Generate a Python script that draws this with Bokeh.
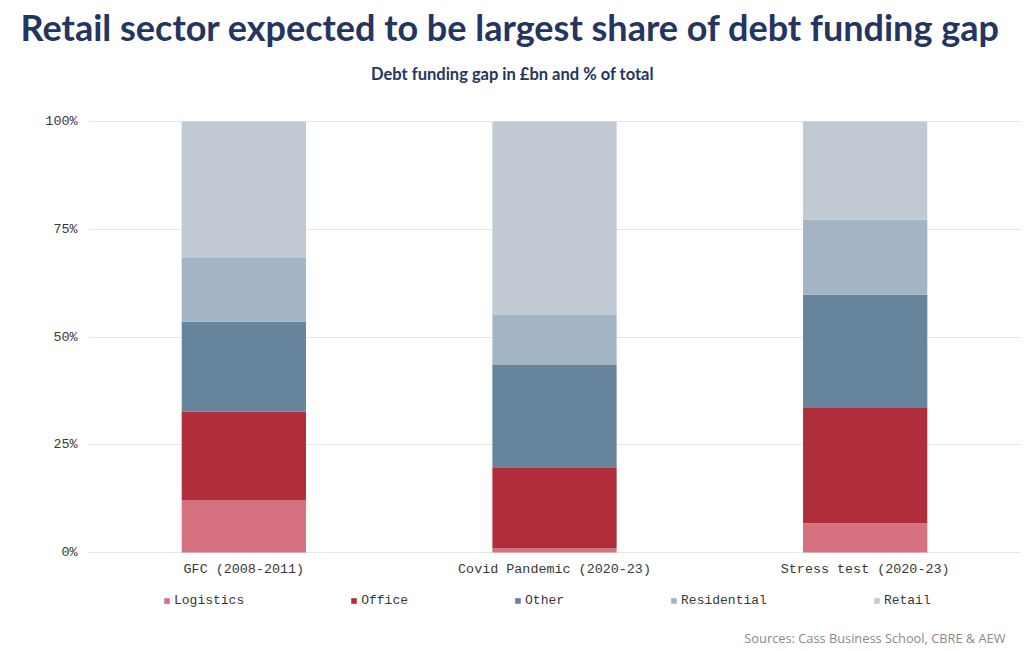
from bokeh.plotting import figure
from bokeh.models import (Title, Label, Legend, LegendItem, FixedTicker, PrintfTickFormatter,
                          FactorRange, Range1d, ColumnDataSource)
from bokeh.embed import file_html
from bokeh.resources import INLINE

# ---- data ----
periods = ["GFC (2008-2011)", "Covid Pandemic (2020-23)", "Stress test (2020-23)"]
sectors = ["Logistics", "Office", "Other", "Residential", "Retail"]
logistics = [12.2, 1.0, 6.8]
office = [20.5, 18.8, 26.7]
other = [20.9, 23.7, 26.3]
residential = [14.9, 11.6, 17.4]
retail = [31.5, 44.9, 22.8]
y_ticks = [0, 25, 50, 75, 100]

colors = ["#d6727f", "#b02e3b", "#66849c", "#a3b5c4", "#c1c9d3"]
navy = "#233560"

# ---- layout constants (pixels) ----
W, H = 1024, 651
F_LEFT, F_RIGHT, F_TOP = 88, 1020, 48
Y0_PX, Y100_PX = 552, 121            # where 0% and 100% sit on the canvas
px_per_unit = (Y0_PX - Y100_PX) / 100.0
y_start = -(H - Y0_PX) / px_per_unit
y_end = 100 + (Y100_PX - F_TOP) / px_per_unit

source = ColumnDataSource(data=dict(period=periods, Logistics=logistics, Office=office,
                                    Other=other, Residential=residential, Retail=retail))

p = figure(width=W, height=H, output_backend="svg", toolbar_location=None,
           x_range=FactorRange(*periods), y_range=Range1d(y_start, y_end),
           min_border_left=F_LEFT, min_border_right=W - F_RIGHT,
           min_border_top=F_TOP, min_border_bottom=0)

renderers = p.vbar_stack(sectors, x="period", width=0.4, color=colors, line_color=None,
                         source=source)

p.outline_line_color = None
p.xgrid.grid_line_color = None
p.ygrid.grid_line_color = "#e6e6e6"
p.ygrid.grid_line_width = 1

p.yaxis.ticker = FixedTicker(ticks=y_ticks)
p.ygrid.ticker = FixedTicker(ticks=y_ticks)
p.yaxis.formatter = PrintfTickFormatter(format="%d%%")
p.xaxis.fixed_location = 0
for ax in (p.xaxis, p.yaxis):
    ax.axis_line_color = None
    ax.major_tick_line_color = None
    ax.minor_tick_line_color = None
    ax.major_tick_out = 0
    ax.major_tick_in = 0
    ax.minor_tick_out = 0
    ax.major_label_text_font = "Liberation Mono"
    ax.major_label_text_font_size = "13.4px"
    ax.major_label_text_color = "#383838"
p.yaxis.major_label_standoff = 11
p.xaxis.major_label_standoff = 9

legend = Legend(items=[LegendItem(label=s, renderers=[r]) for s, r in zip(sectors, renderers)],
                orientation="horizontal", location=(75, 43.5),
                glyph_width=7, glyph_height=7, label_standoff=4, spacing=106,
                padding=0, margin=0, label_height=14,
                border_line_color=None, background_fill_alpha=0,
                label_text_font="Liberation Mono", label_text_font_size="13px",
                label_text_color="#383838")
p.add_layout(legend)

p.add_layout(Label(x=512 - F_LEFT, y=H - 73, x_units="screen", y_units="screen",
                   text="Debt funding gap in £bn and % of total",
                   text_align="center", text_baseline="alphabetic",
                   text_font="Lato", text_font_style="bold", text_font_size="16.5px",
                   text_color=navy))
p.add_layout(Label(x=1005 - F_LEFT, y=H - 637, x_units="screen", y_units="screen",
                   text="Sources: Cass Business School, CBRE & AEW",
                   text_align="right", text_baseline="alphabetic",
                   text_font="Open Sans", text_font_size="12.8px",
                   text_color="#8a8a8a"))

p.add_layout(Title(text="Retail sector expected to be largest share of debt funding gap",
                   align="left", offset=20 - F_LEFT, vertical_align="bottom", standoff=0,
                   text_font="Lato", text_font_style="bold", text_font_size="36px",
                   text_color=navy), "above")

open("out.html", "w").write(file_html(p, INLINE))
